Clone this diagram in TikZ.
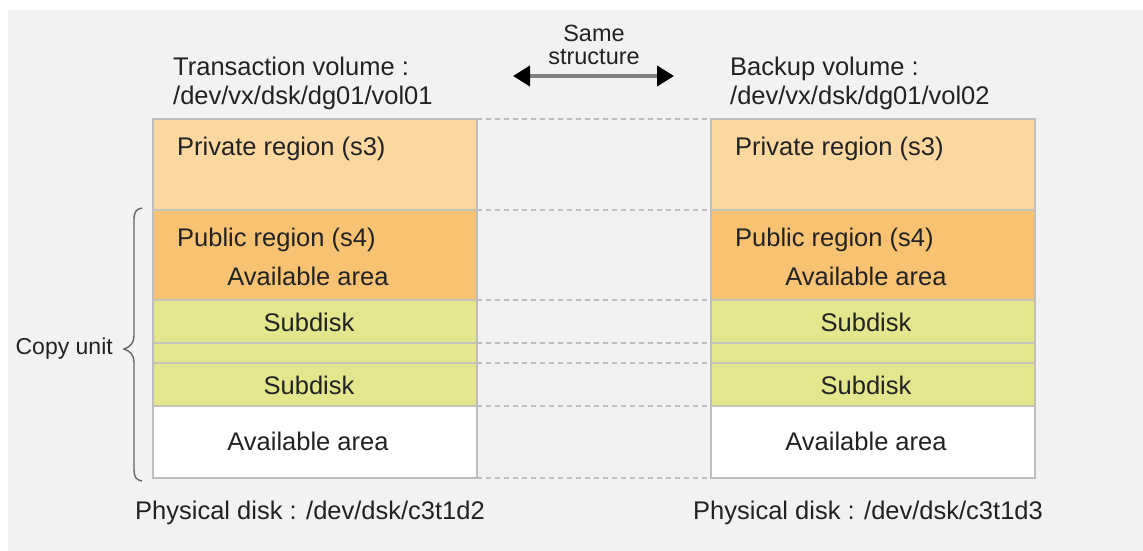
\documentclass[tikz,border=0pt]{standalone}
\usepackage{fontspec}
\setmainfont{Liberation Sans}
\usetikzlibrary{arrows.meta}
\definecolor{bgc}{HTML}{F2F2F2}
\definecolor{privc}{HTML}{FCD8A1}
\definecolor{pubc}{HTML}{F8C273}
\definecolor{subc}{HTML}{E3E68C}
\definecolor{linec}{HTML}{C4C4B8}
\definecolor{dashc}{HTML}{BDBDBD}
\definecolor{txtc}{HTML}{222222}
\begin{document}
\begin{tikzpicture}[x=1pt,y=-1pt,
  row/.style={draw=linec, line width=1.3pt, minimum width=324pt, inner sep=0pt, outer sep=0pt},
  lbl/.style={font=\fontsize{25.5}{28}\selectfont, text=txtc, inner sep=0pt},
  dashline/.style={draw=dashc, line width=1.6pt, dash pattern=on 5pt off 4pt},
  bigarrow/.style={line width=4pt, draw=black!50,
    {Triangle[length=17pt,width=20pt,fill=black,color=black]}-{Triangle[length=17pt,width=20pt,fill=black,color=black]}},
]
\useasboundingbox (0,0) rectangle (1143,551);
\fill[white] (0,0) rectangle (1143,551);
\fill[bgc] (8,10) rectangle (1143,551);

% left column rows
\node[row, fill=privc, minimum height=91pt] (LP) at (315,164.5) {};
\node[row, fill=pubc,  minimum height=90pt] (LU) at (315,255) {};
\node[row, fill=subc,  minimum height=43pt] (LS1) at (315,321.5) {};
\node[row, fill=subc,  minimum height=20pt] (LG) at (315,353) {};
\node[row, fill=subc,  minimum height=43pt] (LS2) at (315,384.5) {};
\node[row, fill=white, minimum height=72pt] (LA) at (315,442) {};
% right column rows
\node[row, fill=privc, minimum height=91pt] (RP) at (873,164.5) {};
\node[row, fill=pubc,  minimum height=90pt] (RU) at (873,255) {};
\node[row, fill=subc,  minimum height=43pt] (RS1) at (873,321.5) {};
\node[row, fill=subc,  minimum height=20pt] (RG) at (873,353) {};
\node[row, fill=subc,  minimum height=43pt] (RS2) at (873,384.5) {};
\node[row, fill=white, minimum height=72pt] (RA) at (873,442) {};
% outer borders
\draw[draw=dashc, line width=1.3pt] (LP.north west) rectangle (LA.south east);
\draw[draw=dashc, line width=1.3pt] (RP.north west) rectangle (RA.south east);

% dashed connectors
\draw[dashline] (LP.north east) -- (RP.north west);
\draw[dashline] (LU.north east) -- (RU.north west);
\draw[dashline] (LS1.north east) -- (RS1.north west);
\draw[dashline] (LG.north east) -- (RG.north west);
\draw[dashline] (LS2.north east) -- (RS2.north west);
\draw[dashline] (LA.north east) -- (RA.north west);
\draw[dashline] (LA.south east) -- (RA.south west);

% texts in rows
\node[lbl, anchor=base west] (tLP) at (177,155) {Private region (s3)};
\node[lbl, anchor=base west] (tRP) at (735,155) {Private region (s3)};
\node[lbl, anchor=base west] (tLU) at (177,246) {Public region (s4)};
\node[lbl, anchor=base west] (tRU) at (735,246) {Public region (s4)};
\node[lbl, anchor=base] (tLUA) at (308,285) {Available area};
\node[lbl, anchor=base] (tRUA) at (866,285) {Available area};
\node[lbl, anchor=base] (tLS1) at (309,331) {Subdisk};
\node[lbl, anchor=base] (tRS1) at (866,331) {Subdisk};
\node[lbl, anchor=base] (tLS2) at (309,394) {Subdisk};
\node[lbl, anchor=base] (tRS2) at (866,394) {Subdisk};
\node[lbl, anchor=base] (tLA) at (308,450) {Available area};
\node[lbl, anchor=base] (tRA) at (866,450) {Available area};

% headers
\node[lbl, anchor=base west] (h1) at (173,76) {Transaction volume :};
\node[lbl, anchor=base west] (h2) at (173,104) {/dev/vx/dsk/dg01/vol01};
\node[lbl, anchor=base west] (h3) at (730,76) {Backup volume :};
\node[lbl, anchor=base west] (h4) at (730,104) {/dev/vx/dsk/dg01/vol02};

% same structure
\node[lbl, font=\fontsize{23.5}{26}\selectfont, anchor=base] (same1) at (594,42) {Same};
\node[lbl, font=\fontsize{23.5}{26}\selectfont, anchor=base] (same2) at (594,64) {structure};
\coordinate (aL) at (513,76);
\coordinate (aR) at (674,76);
\draw[bigarrow] (aL) -- (aR);

% physical disks
\node[lbl, anchor=base west] (pd1) at (135,519) {Physical disk : /dev/dsk/c3t1d2};
\node[lbl, anchor=base west] (pd2) at (693,519) {Physical disk : /dev/dsk/c3t1d3};

% copy unit brace
\coordinate (bt) at (142,208);
\coordinate (bb) at (142,481);
\coordinate (bm) at (124,349);
\draw[draw=black!60, line width=1.4pt]
  (bt) .. controls (136,209) and (134,212) .. (134,220)
  -- (134,336) .. controls (134,343) and (130,347) .. (bm)
  .. controls (130,351) and (134,355) .. (134,362)
  -- (134,469) .. controls (134,477) and (136,480) .. (bb);
\node[lbl, font=\fontsize{23}{26}\selectfont, anchor=east] (cu) at (113,349) {Copy unit};
\end{tikzpicture}
\end{document}
